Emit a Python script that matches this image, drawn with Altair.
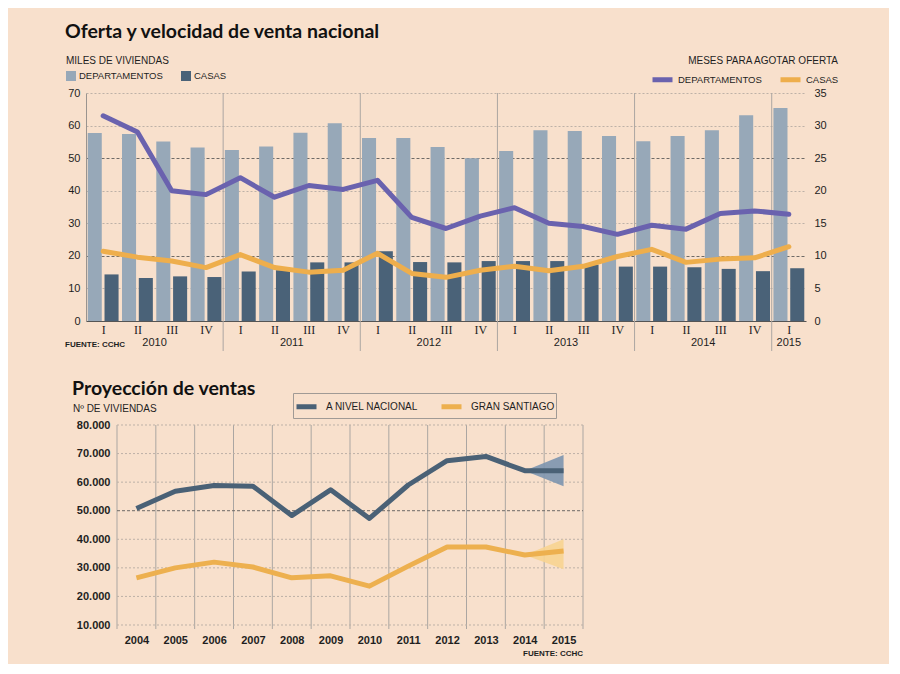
import json
import altair as alt
import pandas as pd

# ---------------- data: top chart ----------------
quarter_idx = list(range(21))
quarter_labels = ["I", "II", "III", "IV"] * 5 + ["I"]
year_labels = ["2010", "2011", "2012", "2013", "2014", "2015"]
year_label_pos = [1.5, 5.5, 9.5, 13.5, 17.5, 20]
year_dividers = [3.5, 7.5, 11.5, 15.5, 19.5]
series = ["DEPARTAMENTOS", "CASAS"]

stock_dept = [57.7, 57.4, 55.1, 53.3, 52.5, 53.6, 57.8, 60.7, 56.2, 56.2, 53.4,
              50.0, 52.2, 58.6, 58.3, 56.8, 55.2, 56.8, 58.6, 63.2, 65.4]
stock_casas = [14.3, 13.2, 13.7, 13.5, 15.2, 15.6, 18.0, 18.0, 21.4, 18.1, 18.0,
               18.4, 18.4, 18.4, 17.3, 16.7, 16.7, 16.5, 16.0, 15.3, 16.2]
months_dept = [31.5, 29.0, 20.0, 19.4, 22.0, 19.0, 20.8, 20.2, 21.6, 15.9, 14.2,
               16.1, 17.4, 15.0, 14.5, 13.3, 14.7, 14.1, 16.5, 16.9, 16.4]
months_casas = [10.7, 9.8, 9.2, 8.2, 10.2, 8.2, 7.5, 7.8, 10.4, 7.3, 6.7,
                7.8, 8.4, 7.7, 8.4, 9.9, 11.0, 9.0, 9.5, 9.7, 11.4]
left_ticks = [0, 10, 20, 30, 40, 50, 60, 70]
right_ticks = [0, 5, 10, 15, 20, 25, 30, 35]

# ---------------- data: bottom chart ----------------
proj_years = list(range(2004, 2016))
proj_series = ["A NIVEL NACIONAL", "GRAN SANTIAGO"]
proj_nacional = [50800, 56800, 58800, 58600, 48300, 57300, 47300, 59000,
                 67500, 69000, 64000, 64000]
proj_santiago = [26500, 30000, 32000, 30300, 26500, 27200, 23600, 30600,
                 37300, 37300, 34500, 35900]
cone_years = [2014, 2015]
cone_nac_low = [64000, 58600]
cone_nac_high = [64000, 69500]
cone_stgo_low = [34500, 29500]
cone_stgo_high = [34500, 40000]
bottom_ticks = [10000, 20000, 30000, 40000, 50000, 60000, 70000, 80000]
bottom_grid_light = [10000, 20000, 30000, 40000, 60000, 70000, 80000]
bottom_grid_dark = [50000]
bottom_vlines = [2003.5 + k for k in range(13)]

# ---------------- style ----------------
BG = "#F8E0CC"
C_DEPT_BAR = "#97A8B8"
C_CASAS_BAR = "#4A6278"
C_DEPT_LINE = "#6A62AE"
C_CASAS_LINE = "#EEAE4C"
C_NAC = "#4A6176"
C_STGO = "#EDB04F"
GRID = "#BDB1A7"
GRID_DARK = "#6E6A66"
DIV = "#ABA6A2"
FONT = "Liberation Sans"
TFONT = "Lato"
TXT = "#1E1E1E"

TOP_W, TOP_H = 720, 228
BOT_W, BOT_H = 497, 200

# ---------------- top chart ----------------
bars = pd.DataFrame({
    "q": quarter_idx * 2,
    "serie": [series[0]] * 21 + [series[1]] * 21,
    "valor": stock_dept + stock_casas,
})
lines = pd.DataFrame({
    "q": quarter_idx * 2,
    "tipo": [series[0]] * 21 + [series[1]] * 21,
    "meses": months_dept + months_casas,
})

xs = alt.Scale(domain=[-0.5, 20.5], nice=False, zero=False)
x_axis = alt.Axis(values=quarter_idx, labelExpr=json.dumps(quarter_labels) + "[datum.value]",
                  grid=False, ticks=False, title=None, domainColor="#555",
                  labelFont="Liberation Serif", labelFontSize=12, labelColor=TXT,
                  labelPadding=3)

cond_test = "datum.value == 20 || datum.value == 50"
left_axis = alt.Axis(values=left_ticks, title=None, ticks=False, labelPadding=6,
                     domainColor="#9A948F", labelFont=FONT, labelFontSize=11,
                     labelColor=TXT,
                     gridColor={"condition": {"test": cond_test, "value": GRID_DARK}, "value": GRID},
                     gridDash={"condition": {"test": cond_test, "value": [3, 2]}, "value": [2, 2]},
                     gridWidth=1)
right_axis = alt.Axis(values=right_ticks, title=None, ticks=False, domain=False, grid=False,
                      orient="right", labelPadding=8, labelFont=FONT, labelFontSize=11,
                      labelColor=TXT)

bar_layer = alt.Chart(bars).transform_calculate(
    x0="datum.q + (datum.serie == 'DEPARTAMENTOS' ? -0.45 : 0.04)",
    x1="datum.q + (datum.serie == 'DEPARTAMENTOS' ? -0.04 : 0.45)",
).mark_bar().encode(
    x=alt.X("x0:Q", scale=xs, axis=x_axis),
    x2="x1:Q",
    y=alt.Y("valor:Q", scale=alt.Scale(domain=[0, 70], nice=False), axis=left_axis),
    y2=alt.datum(0),
    fill=alt.Fill("serie:N", scale=alt.Scale(domain=series, range=[C_DEPT_BAR, C_CASAS_BAR]),
                  legend=alt.Legend(title="MILES DE VIVIENDAS", orient="none", legendX=-20,
                                    legendY=-37, direction="horizontal", symbolType="square",
                                    symbolSize=100, symbolStrokeWidth=0, titleFont=FONT,
                                    titleFontSize=10, titleFontWeight="normal", titleColor=TXT,
                                    labelFont=FONT, labelFontSize=9.5, labelColor=TXT,
                                    columnPadding=18, titlePadding=5, labelOffset=3,
                                    padding=0)),
)

line_layer = alt.Chart(lines).mark_line(strokeWidth=5, strokeCap="round", strokeJoin="round").encode(
    x=alt.X("q:Q", scale=xs, axis=x_axis),
    y=alt.Y("meses:Q", scale=alt.Scale(domain=[0, 35], nice=False), axis=right_axis),
    stroke=alt.Stroke("tipo:N", scale=alt.Scale(domain=series, range=[C_DEPT_LINE, C_CASAS_LINE]),
                      legend=alt.Legend(title="MESES PARA AGOTAR OFERTA", orient="none",
                                        legendX=564, legendY=-37, direction="horizontal",
                                        symbolType="stroke", symbolSize=400, symbolStrokeWidth=5,
                                        titleFont=FONT, titleFontSize=10, titleAnchor="end",
                                        titleFontWeight="normal", titleColor=TXT,
                                        labelFont=FONT, labelFontSize=9.5, labelColor=TXT,
                                        columnPadding=8, titlePadding=1, labelOffset=3,
                                        padding=0)),
)

div_layer = alt.Chart(pd.DataFrame({"d": year_dividers})).mark_rule(color=DIV, strokeWidth=1).encode(
    x=alt.X("d:Q", scale=xs, axis=x_axis),
    y=alt.value(0),
    y2=alt.value(TOP_H + 30),
)

year_layer = alt.Chart(pd.DataFrame({"p": year_label_pos, "t": year_labels})).mark_text(
    font=FONT, fontSize=11, color=TXT, baseline="middle", align="center"
).encode(
    x=alt.X("p:Q", scale=xs, axis=x_axis),
    y=alt.value(TOP_H + 22),
    text="t:N",
)

title_top = alt.Chart(pd.DataFrame({"t": ["Oferta y velocidad de venta nacional"]})).mark_text(
    font=TFONT, fontSize=19.5, fontWeight="bold", color="#111", align="left", baseline="middle"
).encode(x=alt.value(-21), y=alt.value(-61), text="t:N")

fuente_top = alt.Chart(pd.DataFrame({"t": ["FUENTE: CCHC"]})).mark_text(
    font=FONT, fontSize=8, fontWeight="bold", color=TXT, align="left", baseline="middle"
).encode(x=alt.value(-21), y=alt.value(TOP_H + 24), text="t:N")

top = alt.layer(bar_layer, div_layer, line_layer, year_layer, title_top, fuente_top).resolve_scale(
    y="independent"
).resolve_legend(fill="independent", stroke="independent").properties(width=TOP_W, height=TOP_H)

# ---------------- bottom chart ----------------
proj = pd.DataFrame({
    "anio": proj_years * 2,
    "zona": [proj_series[0]] * 12 + [proj_series[1]] * 12,
    "ventas": proj_nacional + proj_santiago,
})
cone = pd.DataFrame({
    "anio_c": cone_years * 2,
    "zona_c": [proj_series[0]] * 2 + [proj_series[1]] * 2,
    "low": cone_nac_low + cone_stgo_low,
    "high": cone_nac_high + cone_stgo_high,
})

xs2 = alt.Scale(domain=[2003.5, 2015.5], range=[31, BOT_W], nice=False, zero=False)
ys2 = alt.Scale(domain=[10000, 80000], nice=False)
x2_axis = alt.Axis(values=proj_years, format="d", grid=False, ticks=False, domain=False,
                   title=None, labelFont=FONT, labelFontSize=11, labelFontWeight="bold",
                   labelColor=TXT, labelPadding=9)
y2_axis = alt.Axis(values=bottom_ticks, labelExpr="replace(format(datum.value, ','), ',', '.')",
                   grid=False, ticks=False, domain=False, title=None, offset=-31, labelPadding=7,
                   labelFont=FONT, labelFontSize=11, labelFontWeight="bold", labelColor=TXT)

vline_layer = alt.Chart(pd.DataFrame({"v": bottom_vlines})).mark_rule(color=DIV, strokeWidth=1).encode(
    x=alt.X("v:Q", scale=xs2, axis=x2_axis), y=alt.value(0), y2=alt.value(BOT_H + 4))

hgrid_layer = alt.Chart(pd.DataFrame({"g": bottom_grid_light})).mark_rule(
    color=GRID, strokeWidth=1, strokeDash=[2, 2]).encode(
    y=alt.Y("g:Q", scale=ys2, axis=y2_axis),
    x=alt.datum(2003.5, scale=xs2), x2=alt.datum(2015.5))

hgrid_dark_layer = alt.Chart(pd.DataFrame({"g": bottom_grid_dark})).mark_rule(
    color=GRID_DARK, strokeWidth=1, strokeDash=[3, 2]).encode(
    y=alt.Y("g:Q", scale=ys2, axis=y2_axis),
    x=alt.datum(2003.5, scale=xs2), x2=alt.datum(2015.5))

cone_layer = alt.Chart(cone).mark_area(opacity=0.9).encode(
    x=alt.X("anio_c:Q", scale=xs2, axis=x2_axis),
    y=alt.Y("low:Q", scale=ys2, axis=y2_axis),
    y2="high:Q",
    fill=alt.Fill("zona_c:N", scale=alt.Scale(domain=proj_series, range=["#7C95AF", "#F7D491"]),
                  legend=None),
)

proj_layer = alt.Chart(proj).mark_line(strokeWidth=5, strokeJoin="round").encode(
    x=alt.X("anio:Q", scale=xs2, axis=x2_axis),
    y=alt.Y("ventas:Q", scale=ys2, axis=y2_axis),
    stroke=alt.Stroke("zona:N", scale=alt.Scale(domain=proj_series, range=[C_NAC, C_STGO]),
                      legend=alt.Legend(title=None, orient="none", legendX=207, legendY=-32,
                                        direction="horizontal", symbolType="stroke",
                                        symbolSize=400, symbolStrokeWidth=5,
                                        strokeColor="#A09A95", padding=1,
                                        labelFont=FONT, labelFontSize=10, labelColor=TXT,
                                        columnPadding=12, labelOffset=7)),
)

title_bot = alt.Chart(pd.DataFrame({"t": ["Proyección de ventas"]})).mark_text(
    font=TFONT, fontSize=19.5, fontWeight="bold", color="#111", align="left", baseline="middle"
).encode(x=alt.value(-14), y=alt.value(-36), text="t:N")

ylab_bot = alt.Chart(pd.DataFrame({"t": ["Nº DE VIVIENDAS"]})).mark_text(
    font=FONT, fontSize=10, color=TXT, align="left", baseline="middle"
).encode(x=alt.value(-13), y=alt.value(-16), text="t:N")

fuente_bot = alt.Chart(pd.DataFrame({"t": ["FUENTE: CCHC"]})).mark_text(
    font=FONT, fontSize=8, fontWeight="bold", color=TXT, align="right", baseline="middle"
).encode(x=alt.value(BOT_W), y=alt.value(BOT_H + 29), text="t:N")

bottom = alt.layer(vline_layer, hgrid_layer, hgrid_dark_layer, cone_layer, proj_layer,
                   title_bot, ylab_bot, fuente_bot).resolve_legend(
    fill="independent", stroke="independent").properties(width=BOT_W, height=BOT_H)

chart = alt.vconcat(top, bottom, spacing=27).resolve_scale(
    fill="independent", stroke="independent", x="independent", y="independent"
).resolve_legend(fill="independent", stroke="independent").configure(
    background=BG, padding={"left": 57, "top": 14, "right": 50, "bottom": 6}
).configure_view(stroke=None)

chart.save("out.html", embed_options={"renderer": "svg", "actions": False})
